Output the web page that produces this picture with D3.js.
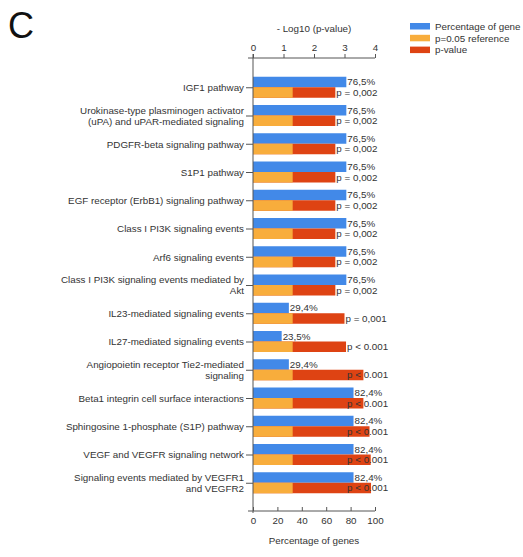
<!DOCTYPE html>
<html>
<head>
<meta charset="utf-8">
<script src="https://cdn.jsdelivr.net/npm/d3@7"></script>
<style>
  body { margin: 0; background: #fff; }
  text { font-family: "Liberation Sans", Arial, sans-serif; fill: #333; }
</style>
</head>
<body>
<div class="mainView"></div>
<script>
// pathways, top to bottom
const categories = [
  "IGF1 pathway",
  "Urokinase-type plasminogen activator\n(uPA) and uPAR-mediated signaling",
  "PDGFR-beta signaling pathway",
  "S1P1 pathway",
  "EGF receptor (ErbB1) signaling pathway",
  "Class I PI3K signaling events",
  "Arf6 signaling events",
  "Class I PI3K signaling events mediated by\nAkt",
  "IL23-mediated signaling events",
  "IL27-mediated signaling events",
  "Angiopoietin receptor Tie2-mediated\nsignaling",
  "Beta1 integrin cell surface interactions",
  "Sphingosine 1-phosphate (S1P) pathway",
  "VEGF and VEGFR signaling network",
  "Signaling events mediated by VEGFR1\nand VEGFR2"
];
const genePct = [76.5, 76.5, 76.5, 76.5, 76.5, 76.5, 76.5, 76.5, 29.4, 23.5, 29.4, 82.4, 82.4, 82.4, 82.4];
const logP = [2.7, 2.7, 2.7, 2.7, 2.7, 2.7, 2.7, 2.7, 3.0, 3.05, 3.62, 3.62, 3.82, 3.86, 3.87];
const refLogP = 1.301; // -log10(0.05)
const pctLabels = ["76,5%", "76,5%", "76,5%", "76,5%", "76,5%", "76,5%", "76,5%", "76,5%", "29,4%", "23,5%", "29,4%", "82,4%", "82,4%", "82,4%", "82,4%"];
const pLabels = ["p = 0,002", "p = 0,002", "p = 0,002", "p = 0,002", "p = 0,002", "p = 0,002", "p = 0,002", "p = 0,002",
  "p = 0,001", "p < 0.001", "p < 0.001", "p < 0.001", "p < 0.001", "p < 0.001", "p < 0.001"];
const pctTicks = [0, 20, 40, 60, 80, 100];
const logTicks = [0, 1, 2, 3, 4];
const legendItems = ["Percentage of gene", "p=0.05 reference", "p-value"];

const colors = { blue: "#4289e8", orange: "#f8ad3c", red: "#de4313", axis: "#555" };
const fs = "9.8px";

function draw() {
  let width = 523, height = 557;
  let x0 = 253, x1 = 375, yTop = 58, yBottom = 511;
  let svg = d3.select(".mainView").append("svg")
    .attr("width", width).attr("height", height);

  let data = categories.map((c, i) => ({
    name: c, pct: genePct[i], lp: logP[i], pctLabel: pctLabels[i], pLabel: pLabels[i]
  }));

  let xPct = d3.scaleLinear().domain([0, 100]).range([x0, x1]);
  let xLog = d3.scaleLinear().domain([0, 4]).range([x0, x1]);
  let y = d3.scalePoint().domain(categories).range([yTop + 1, yBottom]).padding(1);
  let half = 10.5;

  // panel letter
  svg.append("text").attr("x", 8).attr("y", 38)
    .style("font-size", "36px").style("fill", "#111").text("C");

  // bars
  let g = svg.append("g");
  g.selectAll(".pct").data(data).enter().append("rect")
    .attr("x", xPct(0)).attr("y", d => y(d.name) - half)
    .attr("width", d => xPct(d.pct) - xPct(0)).attr("height", half)
    .attr("fill", colors.blue);
  g.selectAll(".pv").data(data).enter().append("rect")
    .attr("x", xLog(0)).attr("y", d => y(d.name))
    .attr("width", d => xLog(d.lp) - xLog(0)).attr("height", half)
    .attr("fill", colors.red);
  g.selectAll(".ref").data(data).enter().append("rect")
    .attr("x", xLog(0)).attr("y", d => y(d.name))
    .attr("width", xLog(refLogP) - xLog(0)).attr("height", half)
    .attr("fill", colors.orange);

  // bar labels
  g.selectAll(".pctl").data(data).enter().append("text")
    .attr("x", d => xPct(d.pct) + 1).attr("y", d => y(d.name) - half / 2)
    .attr("dy", "0.35em").style("font-size", fs).text(d => d.pctLabel);
  g.selectAll(".pl").data(data).enter().append("text")
    .attr("x", d => xLog(Math.min(d.lp, 3.05)) + 1).attr("y", d => y(d.name) + half / 2)
    .attr("dy", "0.35em").style("font-size", fs).text(d => d.pLabel);

  // top axis
  let top = svg.append("g").attr("transform", "translate(0," + yTop + ")")
    .call(d3.axisTop(xLog).tickValues(logTicks).tickFormat(d3.format("d"))
      .tickSize(4).tickSizeOuter(0).tickPadding(3));
  top.select(".domain").attr("d", "M" + (x0 - 5) + ",0H" + x1);
  svg.append("text").attr("x", (x0 + x1) / 2).attr("y", 32)
    .attr("text-anchor", "middle").style("font-size", fs).text("- Log10 (p-value)");

  // bottom axis
  let bottom = svg.append("g").attr("transform", "translate(0," + yBottom + ")")
    .call(d3.axisBottom(xPct).tickValues(pctTicks).tickFormat(d3.format("d"))
      .tickSize(-4).tickSizeOuter(0).tickPadding(6));
  bottom.select(".domain").attr("d", "M" + (x0 - 5) + ",0H" + x1);
  svg.append("text").attr("x", (x0 + x1) / 2).attr("y", 544)
    .attr("text-anchor", "middle").style("font-size", fs).text("Percentage of genes");

  // left axis
  let left = svg.append("g").attr("transform", "translate(" + x0 + ",0)")
    .call(d3.axisLeft(y).tickSize(7).tickSizeOuter(0));
  left.select(".domain").attr("d", "M0," + (yTop - 4) + "V" + (yBottom + 2));
  left.selectAll(".tick text").each(function(d) {
    let t = d3.select(this).text("").attr("dy", null).attr("x", -9);
    let lines = d.split("\n");
    lines.forEach((ln, i) => {
      t.append("tspan").attr("x", -9)
        .attr("y", (i - (lines.length - 1) / 2) * 11)
        .attr("dy", "0.35em").text(ln);
    });
  });

  svg.selectAll(".tick text").style("font-size", fs).style("font-family", "'Liberation Sans', Arial, sans-serif").attr("fill", "#333");
  svg.selectAll(".domain, .tick line").attr("stroke", colors.axis);

  // legend
  let lg = svg.append("g").attr("transform", "translate(410,23)");
  let lc = [colors.blue, colors.orange, colors.red];
  legendItems.forEach((name, i) => {
    lg.append("rect").attr("x", 0).attr("y", i * 11.8).attr("width", 20).attr("height", 6.5).attr("fill", lc[i]);
    lg.append("text").attr("x", 25).attr("y", i * 11.8 + 3.3).attr("dy", "0.35em")
      .style("font-size", fs).text(name);
  });
}
draw();
</script>
</body>
</html>
